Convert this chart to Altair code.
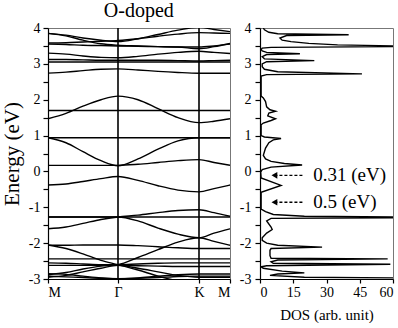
import altair as alt
import pandas as pd

# ---------------- data ----------------
K_PTS = [0, 18, 35, 53, 70, 90, 110, 130, 151, 166, 182]
K_TICKS = [0, 70, 151, 182]
K_LABELS = ["M", "Γ", "K", "M"]
SYM_LINES = [70, 151]

UPPER_BANDS = [
    [3.85, 3.80, 3.72, 3.66, 3.62, 3.70, 3.82, 3.94, 4.02, 3.96, 3.90],
    [3.85, 3.78, 3.66, 3.56, 3.52, 3.50, 3.48, 3.47, 3.47, 3.50, 3.55],
    [3.58, 3.59, 3.61, 3.63, 3.65, 3.70, 3.77, 3.83, 3.87, 3.86, 3.85],
    [3.55, 3.54, 3.52, 3.51, 3.50, 3.49, 3.48, 3.47, 3.42, 3.48, 3.57],
    [3.30, 3.27, 3.22, 3.18, 3.17, 3.21, 3.27, 3.32, 3.35, 3.32, 3.29],
    [3.12, 3.12, 3.11, 3.10, 3.10, 3.10, 3.10, 3.09, 3.08, 3.09, 3.10],
    [3.05, 3.05, 3.05, 3.05, 3.05, 3.05, 3.05, 3.05, 3.05, 3.05, 3.05],
    [2.74, 2.77, 2.81, 2.85, 2.86, 2.83, 2.79, 2.76, 2.74, 2.74, 2.74],
]
MID_BANDS = [
    [1.70, 1.70, 1.70, 1.70, 1.70, 1.70, 1.70, 1.70, 1.70, 1.70, 1.70],
    [1.47, 1.62, 1.82, 2.00, 2.10, 2.00, 1.75, 1.50, 1.36, 1.40, 1.47],
    [0.94, 0.94, 0.94, 0.94, 0.94, 0.94, 0.94, 0.94, 0.94, 0.94, 0.94],
    [0.94, 0.80, 0.55, 0.30, 0.16, 0.35, 0.62, 0.85, 0.94, 0.94, 0.94],
    [0.17, 0.17, 0.17, 0.17, 0.17, 0.20, 0.25, 0.30, 0.33, 0.25, 0.17],
    [-0.38, -0.35, -0.28, -0.20, -0.14, -0.25, -0.40, -0.52, -0.57, -0.48, -0.38],
]
LOWER_BANDS = [
    [-1.27, -1.27, -1.27, -1.27, -1.27, -1.27, -1.27, -1.27, -1.27, -1.27, -1.27],
    [-1.60, -1.55, -1.45, -1.34, -1.27, -1.22, -1.15, -1.09, -1.07, -1.15, -1.25],
    [-1.27, -1.27, -1.27, -1.27, -1.27, -1.38, -1.58, -1.75, -1.85, -1.72, -1.60],
    [-2.06, -2.06, -2.05, -2.05, -2.05, -2.07, -2.10, -2.13, -2.15, -2.15, -2.15],
    [-2.05, -2.15, -2.30, -2.48, -2.60, -2.75, -2.92, -3.05, -3.10, -3.10, -3.10],
    [-2.88, -2.82, -2.72, -2.64, -2.60, -2.40, -2.18, -1.97, -1.85, -1.95, -2.06],
    [-2.44, -2.44, -2.44, -2.44, -2.44, -2.44, -2.44, -2.44, -2.44, -2.44, -2.44],
    [-2.55, -2.56, -2.58, -2.60, -2.60, -2.58, -2.56, -2.55, -2.55, -2.55, -2.55],
    [-2.62, -2.62, -2.62, -2.62, -2.62, -2.63, -2.64, -2.65, -2.65, -2.65, -2.65],
    [-2.95, -2.90, -2.80, -2.70, -2.62, -2.70, -2.80, -2.90, -2.95, -2.95, -2.95],
    [-2.85, -2.87, -2.92, -2.97, -3.00, -2.97, -2.92, -2.88, -2.86, -2.86, -2.86],
    [-2.92, -2.94, -2.96, -2.98, -2.99, -2.98, -2.96, -2.93, -2.92, -2.92, -2.92],
]

DOS_E = [4.0, 3.95, 3.88, 3.84, 3.81, 3.79, 3.72, 3.66, 3.62, 3.57, 3.53, 3.50, 3.48,
         3.46, 3.44, 3.40, 3.36, 3.32, 3.28, 3.26, 3.20, 3.14, 3.09, 3.06, 3.0, 2.92,
         2.85, 2.78, 2.72, 2.70, 2.66, 2.1, 2.05, 1.95, 1.80, 1.72, 1.68, 1.63, 1.55,
         1.47, 1.42, 1.35, 1.30, 1.0, 0.96, 0.92, 0.88, 0.80, 0.65, 0.45, 0.35, 0.28,
         0.22, 0.18, 0.12, 0.05, -0.02, -0.18, -0.39, -0.58, -1.05, -1.12, -1.20, -1.25,
         -1.27, -1.29, -1.31, -1.38, -1.55, -1.62, -1.72, -1.85, -1.92, -2.0, -2.06,
         -2.11, -2.15, -2.2, -2.35, -2.42, -2.44, -2.47, -2.52, -2.56, -2.59, -2.63,
         -2.66, -2.70, -2.78, -2.83, -2.86, -2.90, -2.95, -2.97, -3.0]
DOS_V = [1.5, 2, 4, 8, 40, 12, 9, 10, 14, 22, 35, 62, 62,
         5, 1, 0.5, 1, 3, 18, 3, 1, 2, 24.5, 3, 1, 1,
         2, 8, 46, 3, 0.5, 0.5, 1.5, 2.5, 3, 4.5, 7, 4, 3.5,
         7, 5, 1.5, 0.5, 0.5, 2, 9.5, 6, 4, 2.5, 1.5, 2.5, 5,
         11, 19, 5, 1, 0.3, 0.5, 9.5, 0.5, 0.5, 2.5, 6, 20,
         62, 62, 5, 3, 5, 5.5, 3, 1, 1, 3, 8,
         28, 5, 4.5, 4.5, 5, 57.6, 8, 5, 6, 58.8, 3,
         0.5, 1.5, 10, 20, 8, 4.5, 20, 62, 62]

ANNOT_LABELS = ["0.31 (eV)", "0.5 (eV)"]
ANNOT_E = [-0.11, -0.86]
ARROW_TIP = 6.5
ARROW_TAIL = 19.5
TEXT_AT = 24.0

E_TICKS = [-3, -2.5, -2, -1.5, -1, -0.5, 0, 0.5, 1, 1.5, 2, 2.5, 3, 3.5, 4]
DOS_TICKS = [0, 15, 30, 45, 60]

# ---------------- tables ----------------
rows = []
for i, band in enumerate(UPPER_BANDS + MID_BANDS + LOWER_BANDS):
    for k, e in zip(K_PTS, band):
        rows.append({"band": i, "k": k, "E": e})
bands_df = pd.DataFrame(rows)
dos_df = pd.DataFrame({"E": DOS_E, "DOS": DOS_V, "idx": list(range(len(DOS_E)))})
ann_df = pd.DataFrame({"label": ANNOT_LABELS, "E": ANNOT_E,
                       "tip": [ARROW_TIP] * 2, "tail": [ARROW_TAIL] * 2,
                       "tx": [TEXT_AT] * 2})

FONT = "Liberation Serif"
k_expr = " : ".join(
    f"datum.value == {v} ? '{l}'" for v, l in zip(K_TICKS[1:-1], K_LABELS[1:-1])
) + f" : '{K_LABELS[0]}'"
e_expr = "datum.value % 1 == 0 ? '' + datum.value : ''"

e_scale = alt.Scale(domain=[-3, 4], nice=False, zero=False)
dos_scale = alt.Scale(domain=[0, 60], nice=False)

# ---------------- left: bands ----------------
xk = alt.X("k:Q", scale=alt.Scale(domain=[0, 182], nice=False, zero=False),
           axis=alt.Axis(values=K_TICKS, labelExpr=k_expr, title=None, grid=False,
                         labelFontSize=14, tickSize=4, labelPadding=2,
                         labelOverlap=False))
yE = alt.Y("E:Q", scale=e_scale,
           axis=alt.Axis(values=E_TICKS, labelExpr=e_expr, title="Energy (eV)",
                         grid=False, titleFontSize=21, titlePadding=6,
                         tickSize=5, labelPadding=3, labelOverlap=False))

bands = alt.Chart(bands_df).mark_line(
    interpolate="monotone", clip=True, color="black", strokeWidth=1.4
).encode(x=xk, y=yE, detail="band:N")
vlines = alt.Chart(pd.DataFrame({"k": SYM_LINES})).mark_rule(
    color="black", strokeWidth=1.6
).encode(x="k:Q")
left = alt.layer(bands, vlines).properties(width=182, height=251)

# ---------------- right: DOS ----------------
dos_axis = alt.Axis(values=DOS_TICKS, title="DOS (arb. unit)", grid=False,
                    labelFontSize=14, titleFontSize=15, tickSize=4,
                    labelPadding=2, titlePadding=8, labelOverlap=False)
e_axis_r = alt.Axis(values=E_TICKS, labelExpr=e_expr, title=None, grid=False,
                    tickSize=5, labelPadding=4, labelOverlap=False)

dos_line = alt.Chart(dos_df).mark_line(
    clip=True, color="black", strokeWidth=1.4
).encode(
    x=alt.X("DOS:Q", scale=dos_scale, axis=dos_axis),
    y=alt.Y("E:Q", scale=e_scale, axis=e_axis_r),
    order="idx:Q",
)

arrows = alt.Chart(ann_df).mark_rule(
    color="black", strokeWidth=1.4, strokeDash=[3, 2]
).encode(
    x=alt.X("tip:Q", scale=dos_scale, axis=dos_axis),
    x2="tail:Q",
    y=alt.Y("E:Q", scale=e_scale, axis=e_axis_r),
)
heads = alt.Chart(ann_df).mark_point(
    shape="triangle-left", filled=True, color="black", size=45, opacity=1
).encode(
    x=alt.X("tip:Q", scale=dos_scale, axis=dos_axis),
    y=alt.Y("E:Q", scale=e_scale, axis=e_axis_r),
)
texts = alt.Chart(ann_df).mark_text(
    align="left", baseline="middle", font=FONT, fontSize=19, color="black"
).encode(
    x=alt.X("tx:Q", scale=dos_scale, axis=dos_axis),
    y=alt.Y("E:Q", scale=e_scale, axis=e_axis_r),
    text="label:N",
)

right = alt.layer(dos_line, arrows, heads, texts).properties(width=133, height=251)

chart = alt.hconcat(left, right, spacing=6).properties(
    title=alt.TitleParams("O-doped", anchor="start", dx=103, offset=0,
                          font=FONT, fontSize=20, fontWeight="normal", color="black"),
    padding={"left": 0, "top": 0, "right": 0, "bottom": 0},
).configure_axis(
    labelFont=FONT, titleFont=FONT, labelFontSize=14, labelColor="black",
    titleColor="black", titleFontWeight="normal", tickColor="black",
    domainColor="black", domainWidth=1.2, tickWidth=1.2,
).configure_view(stroke="#777", strokeWidth=1)

chart.save("out.html", embed_options={"renderer": "svg", "actions": False})
